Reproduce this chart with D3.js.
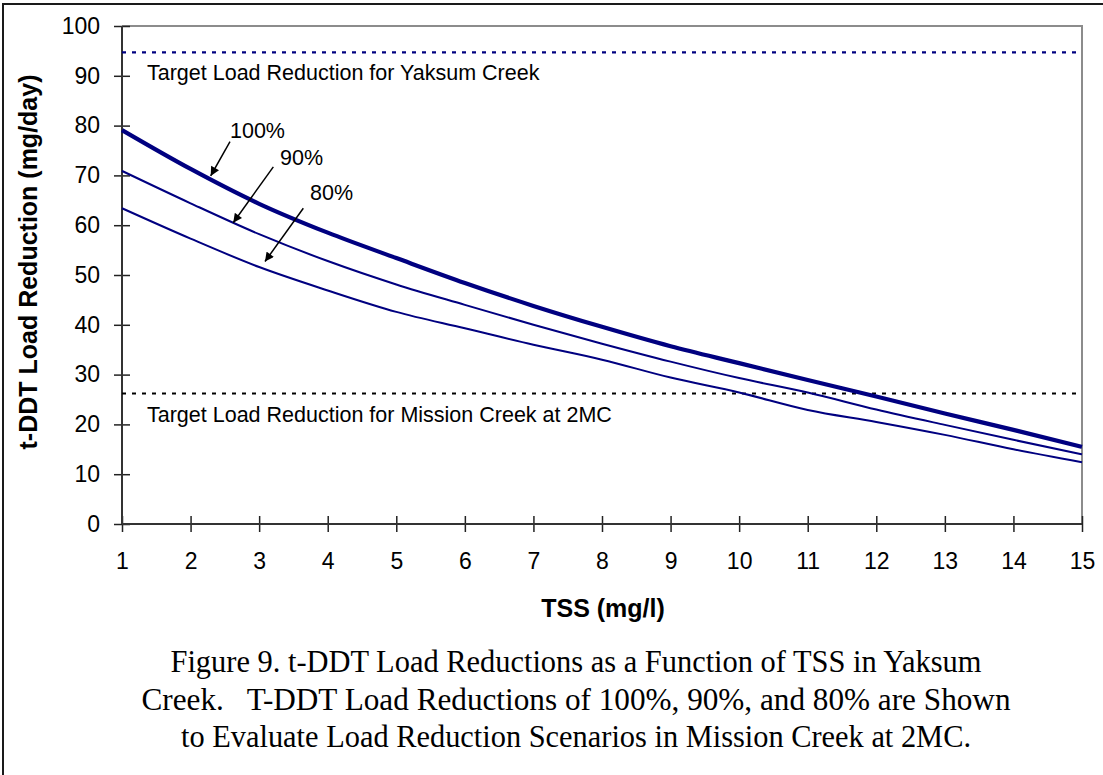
<!DOCTYPE html>
<html>
    <head>
        <meta charset="utf-8">
        <title>Figure 9 - t-DDT Load Reductions</title>
        <style>
            body {
                margin: 0;
                background: #ffffff;
            }

            .ticklabel {
                font-family: Arial, "Liberation Sans", sans-serif;
                font-size: 23px;
                fill: #000000;
            }

            .axistitle {
                font-family: Arial, "Liberation Sans", sans-serif;
                font-weight: bold;
                font-size: 25px;
                fill: #000000;
            }

            .note {
                font-family: Arial, "Liberation Sans", sans-serif;
                font-size: 21.5px;
                fill: #000000;
            }

            .caption {
                font-family: "Times New Roman", "Liberation Serif", serif;
                font-size: 32px;
                fill: #000000;
                white-space: pre;
            }
        </style>
        <script src="https://d3js.org/d3.v7.min.js"></script>
    </head>
    <body>
        <svg width="1103" height="775"></svg>
        <script type="text/javascript">

            //tss values on the x axis
            var tss = [1, 2, 3, 4, 5, 6, 7, 8, 9, 10, 11, 12, 13, 14, 15];

            //load reduction (mg/day)
            var reduction100 = [79.1, 71.3, 64.3, 58.5, 53.4, 48.4, 43.8, 39.6, 35.7, 32.3, 28.9, 25.6, 22.2, 18.9, 15.5];
            var reduction90  = [70.9, 64.4, 58.2, 52.8, 48.1, 44.0, 40.0, 36.2, 32.6, 29.3, 26.4, 23.0, 19.9, 16.9, 14.0];
            var reduction80  = [63.4, 57.3, 51.6, 46.9, 42.6, 39.3, 36.0, 33.0, 29.4, 26.4, 22.9, 20.5, 17.9, 15.0, 12.4];

            //target lines
            var targetNames = ["Target Load Reduction for Yaksum Creek", "Target Load Reduction for Mission Creek at 2MC"];
            var targetValues = [94.7, 26.2];

            //curve labels and where their arrows point (in data units)
            var labelNames = ["100%", "90%", "80%"];
            var labelPos = [[2.575, 77.5], [3.304, 72.1], [3.742, 65.1]];
            var arrowFrom = [[2.575, 76.8], [3.207, 71.7], [3.644, 63.4]];
            var arrowTo = [[2.293, 69.9], [2.622, 60.5], [3.085, 52.7]];

            var xTicks = [1, 2, 3, 4, 5, 6, 7, 8, 9, 10, 11, 12, 13, 14, 15];
            var yTicks = [0, 10, 20, 30, 40, 50, 60, 70, 80, 90, 100];

            var captionLines = [
                "Figure 9. t-DDT Load Reductions as a Function of TSS in Yaksum",
                "Creek.   T-DDT Load Reductions of 100%, 90%, and 80% are Shown",
                "to Evaluate Load Reduction Scenarios in Mission Creek at 2MC."
            ];

            var svg = d3.select("svg"),
                margin = {top: 26, right: 21, bottom: 251, left: 122},
                width = +svg.attr("width") - margin.left - margin.right,
                height = +svg.attr("height") - margin.top - margin.bottom,
                navy = "#000080";

            //outer figure frame (only left and top edges fall inside the page)
            svg.append("rect")
                .attr("x", 3)
                .attr("y", 4)
                .attr("width", 1300)
                .attr("height", 1000)
                .attr("fill", "none")
                .attr("stroke", "#1a1a1a")
                .attr("stroke-width", 2);

            var g = svg.append("g")
                .attr("transform", "translate(" + margin.left + "," + margin.top + ")");

            var x = d3.scaleLinear().domain([1, 15]).range([0, width]);
            var y = d3.scaleLinear().domain([0, 100]).range([height, 0]);

            //plot area top and right edges
            g.append("path")
                .attr("d", "M0,0H" + width + "V" + height)
                .attr("fill", "none")
                .attr("stroke", "#8c8c8c")
                .attr("stroke-width", 2);

            //y axis with ticks crossing the line
            var yAxis = g.append("g")
                .call(d3.axisLeft(y).tickValues(yTicks).tickSize(8).tickPadding(14));
            yAxis.select(".domain").remove();
            yAxis.selectAll(".tick line")
                .attr("x1", 8)
                .attr("x2", -8)
                .attr("stroke", "#222")
                .attr("stroke-width", 1.5);
            yAxis.selectAll(".tick text")
                .attr("class", "ticklabel")
                .attr("x", -22);
            yAxis.attr("font-size", null).attr("font-family", null);

            //x axis with ticks crossing the line
            var xAxis = g.append("g")
                .attr("transform", "translate(0," + height + ")")
                .call(d3.axisBottom(x).tickValues(xTicks).tickSize(8).tickPadding(14));
            xAxis.select(".domain").remove();
            xAxis.selectAll(".tick line")
                .attr("y1", -8)
                .attr("y2", 8)
                .attr("stroke", "#222")
                .attr("stroke-width", 1.5);
            xAxis.selectAll(".tick text")
                .attr("class", "ticklabel")
                .attr("y", 29)
                .attr("dy", "0.71em");
            xAxis.attr("font-size", null).attr("font-family", null);

            //axis lines
            g.append("line")
                .attr("x1", 0).attr("x2", 0)
                .attr("y1", 0).attr("y2", height)
                .attr("stroke", "#333").attr("stroke-width", 2);
            g.append("line")
                .attr("x1", 0).attr("x2", width)
                .attr("y1", height).attr("y2", height)
                .attr("stroke", "#333").attr("stroke-width", 2);

            //target dotted lines
            g.selectAll(".target")
                .data(targetValues)
                .enter()
                    .append("line")
                    .attr("class", "target")
                    .attr("x1", 0)
                    .attr("x2", width)
                    .attr("y1", function(d){return y(d);})
                    .attr("y2", function(d){return y(d);})
                    .attr("stroke", function(d, i){return i == 0 ? navy : "#000";})
                    .attr("stroke-width", 2.2)
                    .attr("stroke-dasharray", "4,6");

            g.selectAll(".note")
                .data(targetNames)
                .enter()
                    .append("text")
                    .attr("class", "note")
                    .attr("x", 25)
                    .attr("y", function(d, i){return y(targetValues[i]) + 28;})
                    .text(function(d){return d;});

            //curves
            var series = [
                {values: reduction100, w: 4.2},
                {values: reduction90, w: 2},
                {values: reduction80, w: 2}
            ];

            var line = d3.line()
                .x(function(d){return x(d[0]);})
                .y(function(d){return y(d[1]);})
                .curve(d3.curveMonotoneX);

            g.selectAll(".curve")
                .data(series)
                .enter()
                    .append("path")
                    .attr("class", "curve")
                    .attr("fill", "none")
                    .attr("stroke", navy)
                    .attr("stroke-width", function(d){return d.w;})
                    .attr("d", function(d){
                        return line(tss.map(function(t, i){return [t, d.values[i]];}));
                    });

            //arrowhead
            svg.append("defs").append("marker")
                .attr("id", "head")
                .attr("viewBox", "0 0 10 10")
                .attr("refX", 10)
                .attr("refY", 5)
                .attr("markerWidth", 10)
                .attr("markerHeight", 9)
                .attr("markerUnits", "userSpaceOnUse")
                .attr("orient", "auto")
                .append("path")
                    .attr("d", "M0,0L10,5L0,10z")
                    .attr("fill", "#000");

            g.selectAll(".arrow")
                .data(arrowFrom)
                .enter()
                    .append("line")
                    .attr("class", "arrow")
                    .attr("x1", function(d){return x(d[0]);})
                    .attr("y1", function(d){return y(d[1]);})
                    .attr("x2", function(d, i){return x(arrowTo[i][0]);})
                    .attr("y2", function(d, i){return y(arrowTo[i][1]);})
                    .attr("stroke", "#000")
                    .attr("stroke-width", 1.5)
                    .attr("marker-end", "url(#head)");

            g.selectAll(".pct")
                .data(labelNames)
                .enter()
                    .append("text")
                    .attr("class", "note")
                    .attr("font-size", "21px")
                    .attr("x", function(d, i){return x(labelPos[i][0]);})
                    .attr("y", function(d, i){return y(labelPos[i][1]);})
                    .text(function(d){return d;});

            //axis titles
            g.append("text")
                .attr("class", "axistitle")
                .attr("text-anchor", "middle")
                .attr("x", 603 - margin.left)
                .attr("y", height + 93)
                .text("TSS (mg/l)");

            svg.append("text")
                .attr("class", "axistitle")
                .attr("text-anchor", "middle")
                .attr("transform", "translate(37,262) rotate(-90)")
                .attr("font-size", "26px")
                .text("t-DDT Load Reduction (mg/day)");

            //figure caption
            var captionWidths = [811, 869, 790];
            svg.selectAll(".caption")
                .data(captionLines)
                .enter()
                    .append("text")
                    .attr("class", "caption")
                    .attr("text-anchor", "middle")
                    .attr("x", 576)
                    .attr("y", function(d, i){return 672 + i * 37.5;})
                    .attr("textLength", function(d, i){return captionWidths[i];})
                    .attr("lengthAdjust", "spacingAndGlyphs")
                    .text(function(d){return d;});

        </script>
    </body>
</html>
